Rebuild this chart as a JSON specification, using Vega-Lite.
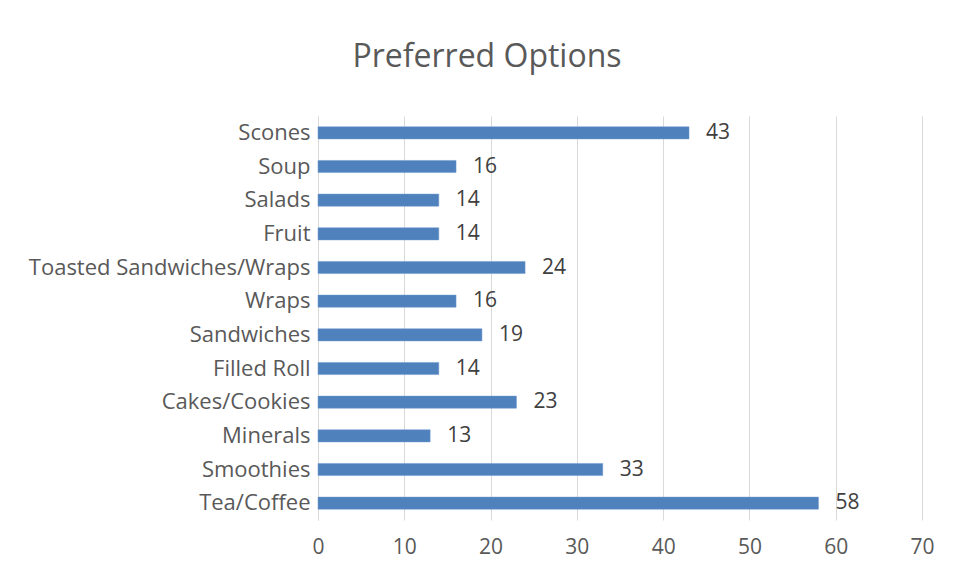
{
  "$schema": "https://vega.github.io/schema/vega-lite/v6.json",
  "autosize": {"type": "none"},
  "width": 604,
  "height": 404,
  "padding": {"left": 318, "top": 116, "right": 34, "bottom": 57},
  "background": "white",
  "title": {
    "text": "Preferred Options",
    "font": "Open Sans",
    "fontSize": 32,
    "fontWeight": "normal",
    "color": "#595959",
    "anchor": "middle",
    "frame": "group",
    "dx": -133,
    "offset": 42
  },
  "config": {
    "view": {"stroke": null},
    "font": "Open Sans"
  },
  "data": {
    "values": [
      {"option": "Scones", "count": 43},
      {"option": "Soup", "count": 16},
      {"option": "Salads", "count": 14},
      {"option": "Fruit", "count": 14},
      {"option": "Toasted Sandwiches/Wraps", "count": 24},
      {"option": "Wraps", "count": 16},
      {"option": "Sandwiches", "count": 19},
      {"option": "Filled Roll", "count": 14},
      {"option": "Cakes/Cookies", "count": 23},
      {"option": "Minerals", "count": 13},
      {"option": "Smoothies", "count": 33},
      {"option": "Tea/Coffee", "count": 58}
    ]
  },
  "encoding": {
    "y": {
      "field": "option",
      "type": "nominal",
      "sort": null,
      "scale": {"paddingInner": 0.64, "paddingOuter": 0.32},
      "axis": {
        "title": null,
        "domain": true,
        "domainColor": "#d9d9d9",
        "domainWidth": 1,
        "ticks": false,
        "labelFont": "Open Sans",
        "labelFontSize": 22,
        "labelColor": "#595959",
        "labelPadding": 8,
        "labelLimit": 400
      }
    },
    "x": {
      "field": "count",
      "type": "quantitative",
      "scale": {"domain": [0, 70], "nice": false},
      "axis": {
        "title": null,
        "values": [0, 10, 20, 30, 40, 50, 60, 70],
        "domain": false,
        "ticks": false,
        "grid": true,
        "gridColor": "#d9d9d9",
        "gridWidth": 1,
        "labelFlush": false,
        "labelFont": "Open Sans",
        "labelFontSize": 21,
        "labelColor": "#595959",
        "labelPadding": 16
      }
    }
  },
  "layer": [
    {
      "mark": {"type": "bar", "color": "#4f81bd", "stroke": "#6f99cf", "strokeWidth": 0.5}
    },
    {
      "mark": {
        "type": "text",
        "align": "left",
        "baseline": "middle",
        "dx": 17,
        "font": "Open Sans",
        "fontSize": 21,
        "color": "#404040"
      },
      "encoding": {"text": {"field": "count", "type": "quantitative"}}
    }
  ]
}
